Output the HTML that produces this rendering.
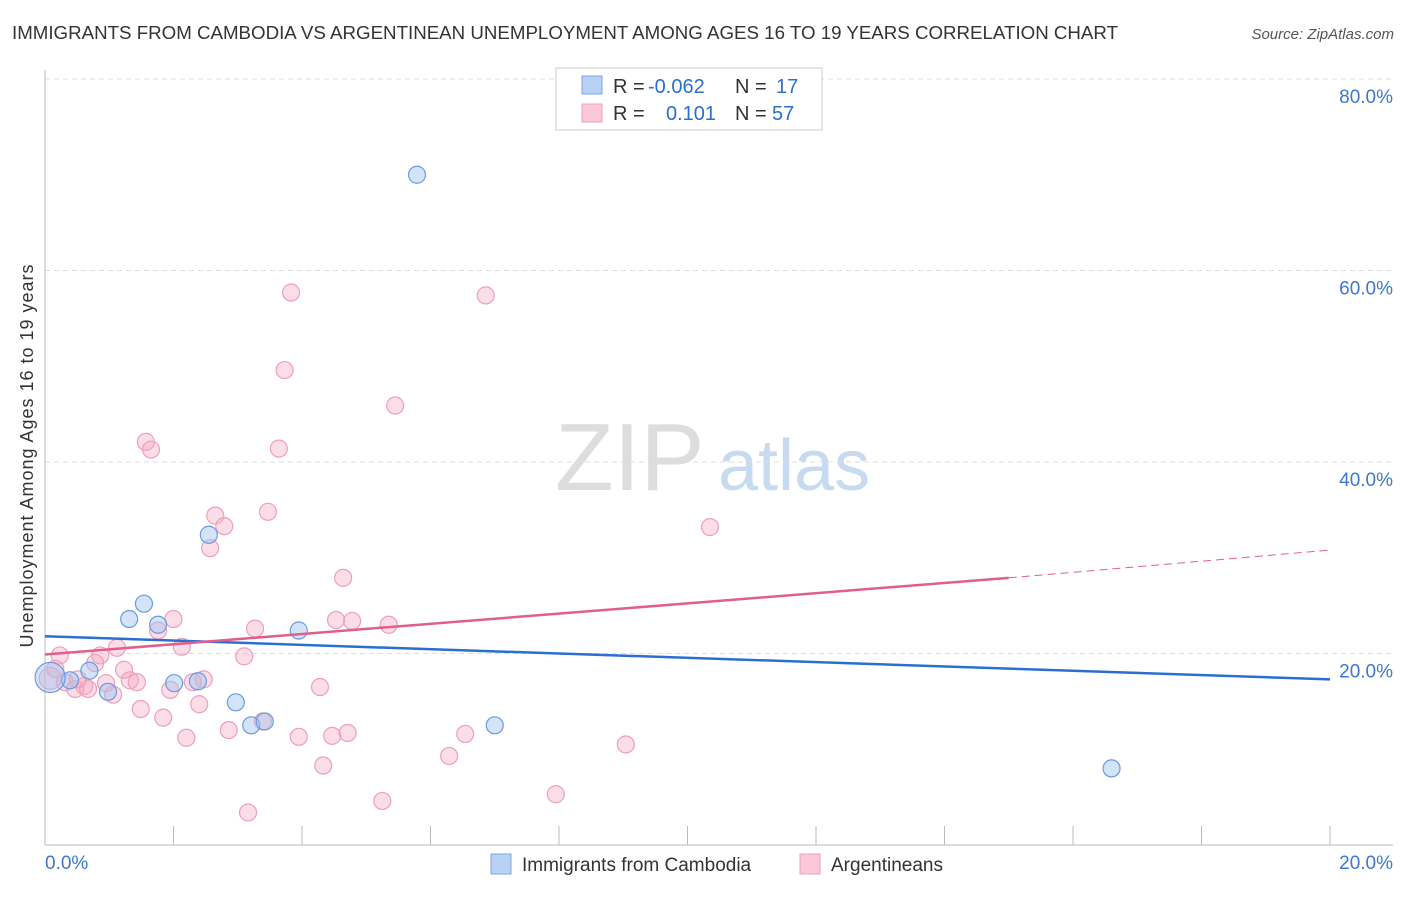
<!DOCTYPE html>
<html><head><meta charset="utf-8"><style>
body{margin:0;background:#fff;font-family:"Liberation Sans",sans-serif}
svg text{font-family:"Liberation Sans",sans-serif}
</style></head><body>
<svg id="c" width="1406" height="892">
<text x="12" y="39" font-size="18" fill="#333" textLength="1106" lengthAdjust="spacingAndGlyphs">IMMIGRANTS FROM CAMBODIA VS ARGENTINEAN UNEMPLOYMENT AMONG AGES 16 TO 19 YEARS CORRELATION CHART</text>
<text x="1394" y="39" font-size="15" fill="#555" font-style="italic" text-anchor="end">Source: ZipAtlas.com</text>
<text x="33" y="456" font-size="18" fill="#333" text-anchor="middle" textLength="383" transform="rotate(-90 33 456)">Unemployment Among Ages 16 to 19 years</text>
<g><text x="555" y="490" font-size="96" fill="#ddd" font-family="Liberation Serif">ZIP</text><text x="718" y="490" font-size="72" fill="#c8daf0">atlas</text></g>
<g id="grid"></g><g id="pts"></g><g id="lines"></g>
<g>
<rect x="556" y="68" width="266" height="62" fill="#fff" stroke="#ccc"/>
<rect x="582" y="76" width="20" height="18" fill="#b8d2f5" stroke="#7aa5e0"/>
<rect x="582" y="104" width="20" height="18" fill="#fbc8d8" stroke="#eea0b8"/>
<text x="613" y="93" font-size="20" fill="#333">R =</text><text x="648" y="93" font-size="20" fill="#2a6fd0">-0.062</text>
<text x="735" y="93" font-size="20" fill="#333">N =</text><text x="776" y="93" font-size="20" fill="#2a6fd0">17</text>
<text x="613" y="120" font-size="20" fill="#333">R =</text><text x="666" y="120" font-size="20" fill="#2a6fd0">0.101</text>
<text x="735" y="120" font-size="20" fill="#333">N =</text><text x="772" y="120" font-size="20" fill="#2a6fd0">57</text>
</g>
<g>
<rect x="491" y="854" width="20" height="20" fill="#b8d2f5" stroke="#7aa5e0"/><text x="522" y="871" font-size="19" fill="#333">Immigrants from Cambodia</text>
<rect x="800" y="854" width="20" height="20" fill="#fbc8d8" stroke="#eea0b8"/><text x="831" y="871" font-size="19" fill="#333">Argentineans</text>
</g>
</svg>
<script>
const yTicks=[20,40,60,80];
const xTickLabels=["0.0%","20.0%"];
const blueX=[5.79,2.55,1.54,1.31,1.76,3.95,0.69,0.39,2.01,2.38,0.98,2.97,3.21,3.42,7.0,16.6,0.08];
const blueY=[70.0,32.4,25.2,23.6,23.0,22.4,18.2,17.2,16.9,17.1,16.0,14.9,12.5,12.9,12.5,8.0,17.5];
const pinkX=[3.83,6.86,3.73,5.45,1.57,1.65,3.64,2.65,3.47,2.79,10.35,2.57,4.64,2.0,4.53,4.78,5.35,1.76,3.27,2.13,1.12,3.1,0.86,0.23,0.78,1.23,1.32,1.43,2.47,2.3,0.95,4.28,0.31,0.61,0.47,1.06,1.95,2.4,1.49,1.84,2.86,3.39,4.71,4.47,3.95,2.2,6.54,9.04,6.29,4.33,5.25,7.95,3.16,0.08,0.16,0.67,0.51];
const pinkY=[57.7,57.4,49.6,45.9,42.1,41.3,41.4,34.4,34.8,33.3,33.2,31.0,27.9,23.6,23.5,23.4,23.0,22.4,22.6,20.7,20.6,19.7,19.8,19.8,19.0,18.3,17.2,17.0,17.3,17.0,16.9,16.5,17.0,16.6,16.3,15.7,16.2,14.7,14.2,13.3,12.0,12.9,11.7,11.4,11.3,11.2,11.6,10.5,9.3,8.3,4.6,5.3,3.4,17.4,18.4,16.3,17.3];
const blueLine=[21.8,17.3];const pinkLine=[19.9,27.9,30.8];const pinkSolidEnd=15;
const X=v=>45+v/20*1285, Y=v=>845-v/20*191.5;
const NS="http://www.w3.org/2000/svg";
function mk(p,t,a){const e=document.createElementNS(NS,t);for(const k in a)e.setAttribute(k,a[k]);document.getElementById(p).appendChild(e);return e;}
mk('grid','line',{x1:45,y1:70,x2:45,y2:845,stroke:'#bbb'});
mk('grid','line',{x1:45,y1:845,x2:1393,y2:845,stroke:'#bbb'});
for(let i=0;i<=10;i++){const l=mk('grid','line',{x1:X(i*2),x2:X(i*2),y1:826,y2:845,stroke:'#bbb'});}
yTicks.forEach(t=>{const l=mk('grid','line',{x1:45,x2:1393,y1:Y(t),y2:Y(t),stroke:'#ddd','stroke-dasharray':'5,4'});
const tx=mk('grid','text',{x:1393,y:Y(t)+24,'font-size':19,fill:'#3a78d4','text-anchor':'end'});tx.textContent=t.toFixed(1)+'%';});
xTickLabels.forEach((s,i)=>{const tx=mk('grid','text',{x:i?1393:45,y:869,'font-size':19,fill:'#3a78d4','text-anchor':i?'end':'start'});tx.textContent=s;});
pinkX.forEach((x,i)=>{const big=i==53;const c=mk('pts','circle',{cx:X(x),cy:Y(pinkY[i]),r:big?11:8.5,fill:'rgba(246,170,195,0.4)',stroke:'#eea0b8','stroke-width':1.2});});
blueX.forEach((x,i)=>{const big=i==16;const c=mk('pts','circle',{cx:X(x),cy:Y(blueY[i]),r:big?15:8.5,fill:'rgba(160,195,240,0.45)',stroke:'#6a9ae0','stroke-width':1.2});});
let l=mk('lines','line',{x1:X(0),y1:Y(blueLine[0]),x2:X(20),y2:Y(blueLine[1]),stroke:'#2a6fd0','stroke-width':2.5});
l=mk('lines','line',{x1:X(0),y1:Y(pinkLine[0]),x2:X(pinkSolidEnd),y2:Y(pinkLine[1]),stroke:'#e0608a','stroke-width':2.5});
l=mk('lines','line',{x1:X(pinkSolidEnd),y1:Y(pinkLine[1]),x2:X(20),y2:Y(pinkLine[2]),stroke:'#e0608a','stroke-width':1,'stroke-dasharray':'8,5'});
</script>
</body></html>
